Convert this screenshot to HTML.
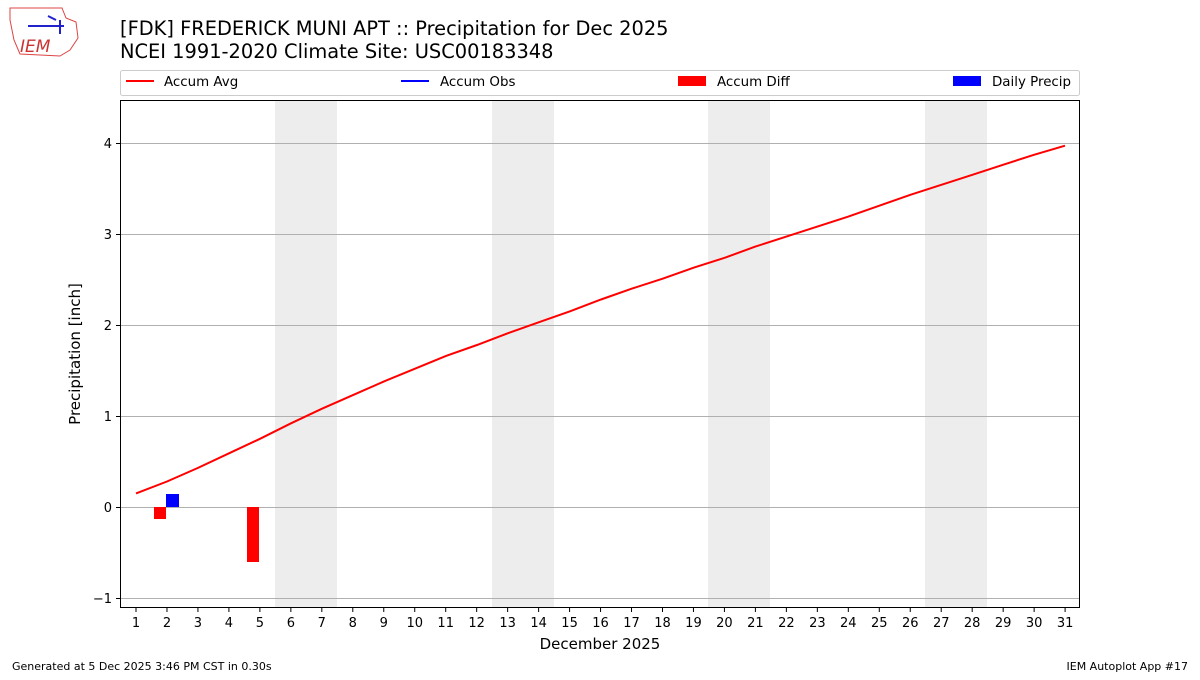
<!DOCTYPE html>
<html><head><meta charset="utf-8"><style>
body{margin:0;background:#fff;}
svg text{font-family:"DejaVu Sans","Liberation Sans",sans-serif;}
</style></head><body>
<svg width="1200" height="675" xmlns="http://www.w3.org/2000/svg">
<rect width="1200" height="675" fill="#fff"/>
<!-- logo -->
<path d="M10 8 L62 8 L66 18 L76 22 L78 38 L70 50 L60 56 L20 54 L14 40 L10 20 Z" fill="none" stroke="#d44" stroke-width="1"/>
<text x="20" y="52" font-size="17" fill="#c33" font-style="italic" font-family="Liberation Serif,serif">IEM</text>
<path d="M28 26 L64 26 M60 20 L60 34 M48 16 L56 20" stroke="#22c" stroke-width="2" fill="none"/>
<text x="120" y="35" font-size="19.4">[FDK] FREDERICK MUNI APT :: Precipitation for Dec 2025</text>
<text x="120" y="58" font-size="19.4">NCEI 1991-2020 Climate Site: USC00183348</text>
<!-- legend -->
<rect x="120.5" y="70.5" width="959" height="25" fill="#fff" stroke="#ccc" rx="2"/>
<line x1="126" y1="81" x2="154" y2="81" stroke="red" stroke-width="2"/>
<text x="164" y="86" font-size="13.4">Accum Avg</text>
<line x1="401" y1="81" x2="429" y2="81" stroke="blue" stroke-width="2"/>
<text x="440" y="86" font-size="13.4">Accum Obs</text>
<rect x="678" y="76" width="28" height="10" fill="red"/>
<text x="717" y="86" font-size="13.4">Accum Diff</text>
<rect x="953" y="76" width="28" height="10" fill="blue"/>
<text x="992" y="86" font-size="13.4">Daily Precip</text>
<!-- weekend shading -->
<g fill="#ededed">
<rect x="275" y="100" width="62" height="508"/>
<rect x="492" y="100" width="62" height="508"/>
<rect x="708" y="100" width="62" height="508"/>
<rect x="925" y="100" width="62" height="508"/>
</g>
<!-- grid -->
<g stroke="#b0b0b0" stroke-width="1">
<line x1="120" y1="143.5" x2="1080" y2="143.5"/>
<line x1="120" y1="234.5" x2="1080" y2="234.5"/>
<line x1="120" y1="325.5" x2="1080" y2="325.5"/>
<line x1="120" y1="416.5" x2="1080" y2="416.5"/>
<line x1="120" y1="507.5" x2="1080" y2="507.5"/>
<line x1="120" y1="598.5" x2="1080" y2="598.5"/>
</g>
<!-- bars -->
<rect x="154" y="507" width="12" height="12" fill="red"/>
<rect x="247" y="507" width="12" height="55" fill="red"/>
<rect x="166" y="494" width="13" height="13" fill="blue"/>
<!-- line -->
<polyline fill="none" stroke="red" stroke-width="2" points="136,493.4 167,481.5 198,467.9 229,453.3 260,438.8 291,423.3 322,408.7 353,395.1 384,381.4 415,368.7 446,355.9 477,345 508,333.2 539,322.2 570,311.3 601,299.5 632,288.6 663,278.6 694,267.6 725,257.7 755,246.7 786,236.7 817,226.7 848,216.7 879,205.8 910,194.9 941,184.9 972,174.9 1003,164.8 1034,154.8 1065,145.7"/>
<!-- axes frame -->
<rect x="120.5" y="100.5" width="959" height="507" fill="none" stroke="#000" stroke-width="1"/>
<!-- y ticks -->
<g stroke="#000"><line x1="116" y1="143.5" x2="120" y2="143.5"/><line x1="116" y1="234.5" x2="120" y2="234.5"/><line x1="116" y1="325.5" x2="120" y2="325.5"/><line x1="116" y1="416.5" x2="120" y2="416.5"/><line x1="116" y1="507.5" x2="120" y2="507.5"/><line x1="116" y1="598.5" x2="120" y2="598.5"/></g>
<g font-size="13" text-anchor="end">
<text x="112" y="148">4</text><text x="112" y="239">3</text><text x="112" y="330">2</text><text x="112" y="421">1</text><text x="112" y="512">0</text><text x="112" y="603">−1</text>
</g>
<text transform="translate(80,354) rotate(-90)" font-size="15" text-anchor="middle">Precipitation [inch]</text>
<!-- x ticks -->
<g id="xt" font-size="13" text-anchor="middle"></g>
<text x="600" y="649" font-size="15" text-anchor="middle">December 2025</text>
<text x="12" y="670" font-size="11">Generated at 5 Dec 2025 3:46 PM CST in 0.30s</text>
<text x="1188" y="670" font-size="11" text-anchor="end">IEM Autoplot App #17</text>
</svg>
<script>
var g=document.getElementById('xt'),ns='http://www.w3.org/2000/svg';
for(var d=1;d<=31;d++){var x=136+(d-1)*30.97;
var l=document.createElementNS(ns,'line');l.setAttribute('x1',x);l.setAttribute('x2',x);l.setAttribute('y1',608);l.setAttribute('y2',612);l.setAttribute('stroke','#000');g.appendChild(l);
var t=document.createElementNS(ns,'text');t.setAttribute('x',x);t.setAttribute('y',627);t.textContent=d;g.appendChild(t);}
</script>
</body></html>
